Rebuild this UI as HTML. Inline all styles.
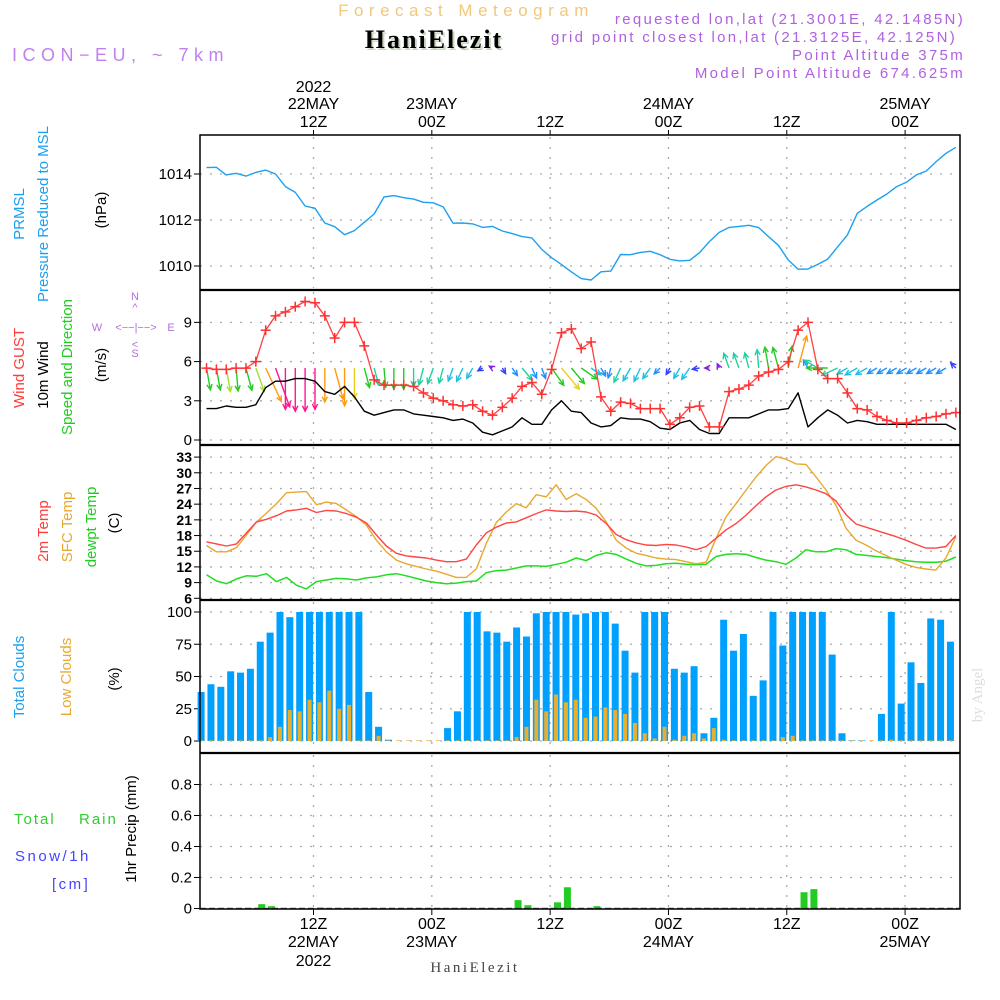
<!DOCTYPE html>
<html><head><meta charset="utf-8"><style>
html,body{margin:0;padding:0;background:#fff;}
svg{display:block;font-family:"Liberation Sans",sans-serif;}
</style></head><body>
<svg id="chart" width="1000" height="1000" viewBox="0 0 1000 1000">
<g id="header">
<text x="466" y="16" text-anchor="middle" font-size="17" fill="#f2c87a" letter-spacing="5.5">Forecast Meteogram</text>
<text x="436" y="50" text-anchor="middle" font-size="26" font-weight="bold" font-family="Liberation Serif,serif" fill="#c8d8c0" letter-spacing="2">HaniElezit</text>
<text x="434" y="48" text-anchor="middle" font-size="26" font-weight="bold" font-family="Liberation Serif,serif" fill="#000" letter-spacing="2">HaniElezit</text>
<text x="12" y="61" font-size="18" fill="#c080f0" letter-spacing="5.5">ICON−EU, ~ 7km</text>
<text x="965" y="24" text-anchor="end" font-size="15" fill="#b060e0" letter-spacing="2.3">requested lon,lat (21.3001E, 42.1485N)</text>
<text x="957" y="42" text-anchor="end" font-size="15" fill="#b060e0" letter-spacing="2.3">grid point closest lon,lat (21.3125E, 42.125N)</text>
<text x="965" y="60" text-anchor="end" font-size="15" fill="#b060e0" letter-spacing="2.3">Point Altitude 375m</text>
<text x="965" y="78" text-anchor="end" font-size="15" fill="#b060e0" letter-spacing="2.3">Model Point Altitude 674.625m</text>
</g>
<g id="leftLabels" font-size="15">
<text transform="translate(24,214) rotate(-90)" text-anchor="middle" fill="#1aa0f0">PRMSL</text>
<text transform="translate(48,214) rotate(-90)" text-anchor="middle" fill="#1aa0f0">Pressure Reduced to MSL</text>
<text transform="translate(106,210) rotate(-90)" text-anchor="middle" fill="#000">(hPa)</text>
<text transform="translate(24,368) rotate(-90)" text-anchor="middle" fill="#ff3b3b">Wind GUST</text>
<text transform="translate(48,375) rotate(-90)" text-anchor="middle" fill="#000">10m Wind</text>
<text transform="translate(72,367) rotate(-90)" text-anchor="middle" fill="#22cc22">Speed and Direction</text>
<text transform="translate(106,365) rotate(-90)" text-anchor="middle" fill="#000">(m/s)</text>
<g fill="#b070e0" font-size="11">
<text x="135" y="300" text-anchor="middle">N</text>
<text x="135" y="311" text-anchor="middle">^</text>
<text x="97" y="331" text-anchor="middle">W</text>
<text x="136" y="331" text-anchor="middle">&lt;−−|−−&gt;</text>
<text x="171" y="331" text-anchor="middle">E</text>
<text x="135" y="348" text-anchor="middle">&lt;</text>
<text x="135" y="357" text-anchor="middle">S</text>
</g>
<text transform="translate(48,531) rotate(-90)" text-anchor="middle" fill="#ff3b3b">2m Temp</text>
<text transform="translate(72,527) rotate(-90)" text-anchor="middle" fill="#e8a830">SFC Temp</text>
<text transform="translate(96,527) rotate(-90)" text-anchor="middle" fill="#22cc22">dewpt Temp</text>
<text transform="translate(119,523) rotate(-90)" text-anchor="middle" fill="#000">(C)</text>
<text transform="translate(24,677) rotate(-90)" text-anchor="middle" fill="#1aa0f0">Total Clouds</text>
<text transform="translate(71,677) rotate(-90)" text-anchor="middle" fill="#e8a830">Low Clouds</text>
<text transform="translate(119,679) rotate(-90)" text-anchor="middle" fill="#000">(%)</text>
<text x="14" y="824" fill="#33cc33" letter-spacing="2">Total</text>
<text x="79" y="824" fill="#33cc33" letter-spacing="2">Rain</text>
<text x="15" y="861" fill="#4444ff" letter-spacing="2.5">Snow/1h</text>
<text x="52" y="889" fill="#4444ff" letter-spacing="2.5">[cm]</text>
<text transform="translate(136,829) rotate(-90)" text-anchor="middle" fill="#000">1hr Precip (mm)</text>
<text transform="translate(982,695) rotate(-90)" text-anchor="middle" fill="#ddd" font-size="15" font-family="Liberation Serif,serif">by Angel</text>
<text x="475" y="972" text-anchor="middle" fill="#444" font-size="15" font-family="Liberation Serif,serif" letter-spacing="2.5">HaniElezit</text>
</g>
<g id="grid"></g>
<g id="marks"></g>
<g id="frame"></g>
</svg>
<script>
// ---- data ----
const timeTickHours = [12, 24, 36, 48, 60, 72];
const timeTickTop1 = ["2022", "", "", "", "", ""];
const timeTickDays = ["22MAY", "23MAY", "", "24MAY", "", "25MAY"];
const timeTickZ = ["12Z", "00Z", "12Z", "00Z", "12Z", "00Z"];
const pressureTicks = [1010, 1012, 1014];
const windTicks = [0, 3, 6, 9];
const tempTicks = [6, 9, 12, 15, 18, 21, 24, 27, 30, 33];
const cloudTicks = [0, 25, 50, 75, 100];
const precipTicks = [0, 0.2, 0.4, 0.6, 0.8];
const pressure = [1014.28,1014.29,1013.96,1014.03,1013.91,1014.07,1014.17,1014.0,1013.45,1013.2,1012.61,1012.51,1011.87,1011.71,1011.36,1011.54,1011.9,1012.26,1013.0,1013.06,1012.97,1012.91,1012.77,1012.75,1012.57,1011.86,1011.87,1011.83,1011.68,1011.72,1011.52,1011.41,1011.28,1011.22,1010.72,1010.36,1010.06,1009.75,1009.45,1009.39,1009.75,1009.78,1010.5,1010.49,1010.59,1010.64,1010.49,1010.29,1010.22,1010.25,1010.58,1011.06,1011.46,1011.68,1011.72,1011.77,1011.67,1011.28,1010.9,1010.26,1009.86,1009.87,1010.07,1010.3,1010.83,1011.35,1012.29,1012.59,1012.87,1013.13,1013.45,1013.65,1013.96,1014.13,1014.54,1014.9,1015.16];
const gust = [5.5,5.4,5.4,5.5,5.5,6.0,8.4,9.5,9.8,10.2,10.6,10.5,9.5,7.8,9.0,9.0,7.2,4.6,4.2,4.2,4.2,4.1,3.6,3.2,3.0,2.7,2.6,2.7,2.2,1.9,2.5,3.2,4.1,4.4,3.5,5.4,8.2,8.5,7.0,7.5,3.3,2.2,2.9,2.8,2.4,2.4,2.4,1.2,1.7,2.5,2.6,1.0,1.0,3.7,3.9,4.2,4.9,5.2,5.4,6.0,8.4,9.0,5.4,4.7,4.7,3.6,2.4,2.3,1.8,1.5,1.3,1.3,1.5,1.7,1.8,2.0,2.1];
const wind10m = [2.4,2.4,2.6,2.5,2.5,2.7,4.0,4.5,4.5,4.7,4.7,4.5,3.7,3.5,4.1,3.3,2.2,1.9,2.1,2.3,2.3,2.0,1.9,1.8,1.7,1.5,1.6,1.3,0.6,0.4,0.7,1.0,1.7,1.2,1.2,2.3,3.0,2.2,2.1,1.3,1.0,1.1,1.7,1.6,1.6,1.4,0.9,0.8,1.3,1.5,0.8,0.5,0.5,1.7,1.7,1.7,2.0,2.3,2.3,2.4,3.6,1.0,1.7,2.3,1.9,1.3,1.5,1.4,1.2,1.2,1.2,1.2,1.2,1.2,1.2,1.2,0.8];
const windBearing = [170,170,170,175,165,160,155,160,180,180,180,180,180,165,180,180,165,165,175,180,180,180,195,200,195,200,205,210,240,300,150,145,140,155,160,145,140,140,125,125,150,195,205,210,205,215,225,210,210,215,260,270,335,340,340,345,355,350,345,10,15,330,300,270,245,240,240,240,240,240,240,240,240,240,240,240,315];
const temp2m = [16.8,16.4,16.0,16.4,18.5,20.6,21.1,21.8,22.7,22.9,23.2,22.4,22.8,22.7,22.2,21.5,20.4,18.1,16.0,14.6,14.1,13.9,13.7,13.3,13.0,13.0,13.5,16.2,18.5,19.6,20.4,20.6,21.4,22.2,22.9,22.7,22.6,22.7,22.5,21.9,20.3,18.2,17.2,16.6,16.2,16.1,16.3,16.2,15.8,15.3,15.9,17.5,19.1,20.3,21.9,23.7,25.4,26.7,27.4,27.7,27.3,26.7,26.0,24.6,22.0,20.2,19.6,19.0,18.4,17.8,17.1,16.3,15.6,15.6,15.9,18.0];
const tempSfc = [16.1,14.9,14.9,15.7,18.1,20.6,22.3,24.1,26.2,26.3,26.4,23.9,24.4,24.1,22.9,21.6,20.0,17.1,14.9,13.3,12.6,12.1,11.6,11.2,10.6,10.0,10.0,11.6,16.5,20.5,22.5,24.1,23.3,25.8,25.4,27.7,24.9,26.0,24.9,23.2,20.6,17.1,15.6,14.6,14.2,13.7,13.5,13.4,13.0,12.6,12.9,17.5,21.6,24.1,26.7,29.2,31.4,33.1,32.6,31.7,31.6,29.2,26.7,23.8,19.4,17.1,16.2,15.1,14.2,13.3,12.5,11.9,11.6,11.4,13.7,17.8];
const tempDew = [10.5,9.3,8.8,9.7,10.3,10.2,10.7,9.2,10.0,8.5,7.8,9.2,9.5,9.8,9.7,9.5,9.9,10.1,10.5,10.7,10.3,9.8,9.3,9.0,8.8,8.9,9.2,9.3,10.9,11.3,11.4,11.8,12.2,12.2,12.1,12.5,12.9,13.7,13.2,14.2,14.7,14.4,13.5,12.7,12.2,12.3,12.6,12.7,12.5,12.4,12.5,14.0,14.4,14.5,14.4,13.8,13.3,13.0,12.5,13.7,15.3,14.9,14.9,15.5,15.3,14.4,14.2,14.0,13.8,13.5,13.2,13.0,12.9,12.9,13.1,13.9];
const totalClouds = [38,44,42,54,53,56,77,84,100,96,100,100,100,100,100,100,100,38,11,1,0,0,0,0,0,10,23,100,100,85,84,77,88,81,99,100,100,100,98,99,100,100,91,70,53,100,100,100,56,53,58,6,18,94,70,83,35,47,100,74,100,100,100,100,67,6,0.5,0.5,0,21,100,29,61,45,95,94,77];
const lowClouds = [0.5,0.5,0.5,0.5,0.5,0.5,0.5,3,11,24,23,32,30,39,25,28,0.5,0.5,4,0.5,0.5,0.5,0.5,0.5,0.5,0.5,0.5,0.5,0.5,0.5,0.5,0.5,3,11,32,23,36,30,32,18,19,26,24,21,14,6,2,11,1,4,6,2,10,1,0.5,0.5,0.5,0.5,0.5,3,4,0.5,0.5,0.5,0.5,0.5,0.5,0.5,0.5,0.5,1,0.5,0.5,0.5,0.5,0.5,0.5];
const precipHours = [7, 8, 13, 33, 34, 37, 38, 41, 62, 63];
const precipValues = [0.028, 0.015, 0.006, 0.054, 0.021, 0.04, 0.137, 0.015, 0.105, 0.125];

// ---- axes ----
const X0 = 313.5, PX_PER_H = 9.86, PLOT_L = 200, PLOT_R = 960;
function X(h){ return X0 + (h - 12) * PX_PER_H; }
function yP(p){ return 174 + (1014 - p) * 23; }
function yW(v){ return 440 - v * 13.07; }
function yT(t){ return 598.3 - (t - 6) * 5.23; }
function yC(c){ return 741 - c * 1.29; }
function yR(r){ return 908.5 - r * 155; }

const NS = "http://www.w3.org/2000/svg";
function mk(parent, tag, attrs){
  const e = document.createElementNS(NS, tag);
  for (const k in attrs) e.setAttribute(k, attrs[k]);
  parent.appendChild(e);
  return e;
}
const grid = document.getElementById('grid');
const marks = document.getElementById('marks');
const frame = document.getElementById('frame');

const panels = [
  {name:'pressure', top:135, bot:290, ticks:pressureTicks, f:yP, fmt:v=>String(v), fs:15, bold:false},
  {name:'wind', top:290, bot:445, ticks:windTicks, f:yW, fmt:v=>String(v), fs:15, bold:false},
  {name:'temp', top:445, bot:600, ticks:tempTicks, f:yT, fmt:v=>String(v), fs:14, bold:true},
  {name:'clouds', top:600, bot:753, ticks:cloudTicks, f:yC, fmt:v=>String(v), fs:15, bold:false},
  {name:'precip', top:753, bot:909, ticks:precipTicks, f:yR, fmt:v=>v===0?'0':v.toFixed(1), fs:15, bold:false}
];
panels.forEach(p => {
  const g = mk(grid, 'g', {});
  
  
  p.ticks.forEach(t => {
    const y = p.f(t);
    const gl = mk(g, 'line', {x1:PLOT_L, x2:PLOT_R, y1:y, y2:y, stroke:'#aaa', 'stroke-width':1.3, 'stroke-dasharray':'2 8'});
    
    
    const tk = mk(g, 'line', {x1:PLOT_L-6, x2:PLOT_L, y1:y, y2:y, stroke:'#000', 'stroke-width':1});
    
    
    const lb = mk(g, 'text', {x:PLOT_L-8, y:y+5, 'text-anchor':'end', 'font-size':p.fs, fill:'#000', 'font-weight':p.bold?'bold':'normal'});
    lb.textContent = p.fmt(t);
    
    
  });
  timeTickHours.forEach(h => {
    const vl = mk(g, 'line', {x1:X(h), x2:X(h), y1:p.top+2, y2:p.bot-2, stroke:'#aaa', 'stroke-width':1.3, 'stroke-dasharray':'2 8'});
    
    
  });
});

// time axis labels
timeTickHours.forEach((h, i) => {
  const x = X(h);
  const lines = [[timeTickTop1[i], 92], [timeTickDays[i], 109], [timeTickZ[i], 127]];
  lines.forEach(([s, y]) => {
    if (!s) return;
    const t = mk(frame, 'text', {x:x, y:y, 'text-anchor':'middle', 'font-size':16, fill:'#000'});
    t.textContent = s;
    
    
  });
  const blines = [[timeTickZ[i], 929], [timeTickDays[i], 947], [timeTickTop1[i], 966]];
  blines.forEach(([s, y]) => {
    if (!s) return;
    const t = mk(frame, 'text', {x:x, y:y, 'text-anchor':'middle', 'font-size':16, fill:'#000'});
    t.textContent = s;
    
    
  });
  const tt = mk(frame, 'line', {x1:x, x2:x, y1:135, y2:130, stroke:'#000'});
  
  
  const bt = mk(frame, 'line', {x1:x, x2:x, y1:909, y2:915, stroke:'#000'});
  
  
});

// frame
const fr = mk(frame, 'rect', {x:PLOT_L, y:135, width:PLOT_R-PLOT_L, height:774, fill:'none', stroke:'#000', 'stroke-width':1.5});


[290, 445, 600, 753].forEach(y => {
  const s = mk(frame, 'line', {x1:PLOT_L, x2:PLOT_R, y1:y, y2:y, stroke:'#000', 'stroke-width':2.2});
  
  
});

function lineHour(k, n){ return 1.15 + k * 76 / (n - 1); }
function polyline(arr, fy, color, name, w){
  const pts = arr.map((v, k) => X(lineHour(k, arr.length)).toFixed(1) + ',' + fy(v).toFixed(1)).join(' ');
  const pl = mk(marks, 'polyline', {points:pts, fill:'none', stroke:color, 'stroke-width':w||1.4, 'stroke-linejoin':'round'});
  
  
}

// clouds
totalClouds.forEach((c, k) => {
  const x = X(k + 0.6);
  const r = mk(marks, 'rect', {x:x-3.5, y:yC(c), width:7, height:yC(0)-yC(c), fill:'#00a0ff'});
  
  
});
lowClouds.forEach((c, k) => {
  const x = X(k + 0.6);
  const r = mk(marks, 'rect', {x:x-2, y:yC(c), width:4, height:yC(0)-yC(c), fill:'#e8ae30'});
  
  
});

// precip
precipValues.forEach((v, i) => {
  const x = X(precipHours[i] - 0.25);
  const r = mk(marks, 'rect', {x:x-3.5, y:yR(v), width:7, height:yR(0)-yR(v), fill:'#22cc22'});
  
  
});
const pz = mk(marks, 'line', {x1:PLOT_L, x2:PLOT_R, y1:yR(0), y2:yR(0), stroke:'#555', 'stroke-width':1.5, 'stroke-dasharray':'6 3'});



// pressure
polyline(pressure, yP, '#1ea0f0', 'pressure-line', 1.4);

// temps
polyline(tempDew, yT, '#22dd22', 'dewpoint-line', 1.5);
polyline(tempSfc, yT, '#e8a830', 'sfc-temp-line', 1.4);
polyline(temp2m, yT, '#ff4444', 'temp-2m-line', 1.4);

// wind arrows
function speedColor(s){
  if (s >= 4.2) return '#ff1493';
  if (s >= 3.4) return '#ff9a10';
  if (s >= 2.9) return '#e8d020';
  if (s >= 2.6) return '#a0e030';
  if (s >= 2.1) return '#22cc22';
  if (s >= 1.7) return '#20d0a0';
  if (s >= 1.3) return '#20c0e0';
  if (s >= 0.9) return '#2090ff';
  if (s >= 0.6) return '#3040ff';
  return '#8020e0';
}
wind10m.forEach((s, k) => {
  const x0 = X(lineHour(k, wind10m.length)), y0 = 368;
  const b = windBearing[k] * Math.PI / 180;
  const L = s * 9.2;
  const dx = Math.sin(b) * L, dy = -Math.cos(b) * L;
  const x1 = x0 + dx, y1 = y0 + dy;
  const ang = Math.atan2(dy, dx);
  const hl = 6, ha = 0.45;
  const col = speedColor(s);
  const g = mk(marks, 'g', {stroke:col, 'stroke-width':1.4, fill:'none'});
  
  
  mk(g, 'line', {x1:x0, y1:y0, x2:x1, y2:y1});
  mk(g, 'polyline', {points:(x1 - hl*Math.cos(ang-ha)) + ',' + (y1 - hl*Math.sin(ang-ha)) + ' ' + x1 + ',' + y1 + ' ' + (x1 - hl*Math.cos(ang+ha)) + ',' + (y1 - hl*Math.sin(ang+ha))});
});

// 10m wind and gust
polyline(wind10m, yW, '#000', 'wind-10m-line', 1.4);
polyline(gust, yW, '#ff4040', 'gust-line', 1.3);
gust.forEach((v, k) => {
  const x = X(lineHour(k, gust.length)), y = yW(v);
  const g = mk(marks, 'g', {stroke:'#ff3030', 'stroke-width':1.5});
  
  
  mk(g, 'line', {x1:x-5, x2:x+5, y1:y, y2:y});
  mk(g, 'line', {x1:x, x2:x, y1:y-5, y2:y+5});
});
</script>
</body></html>
